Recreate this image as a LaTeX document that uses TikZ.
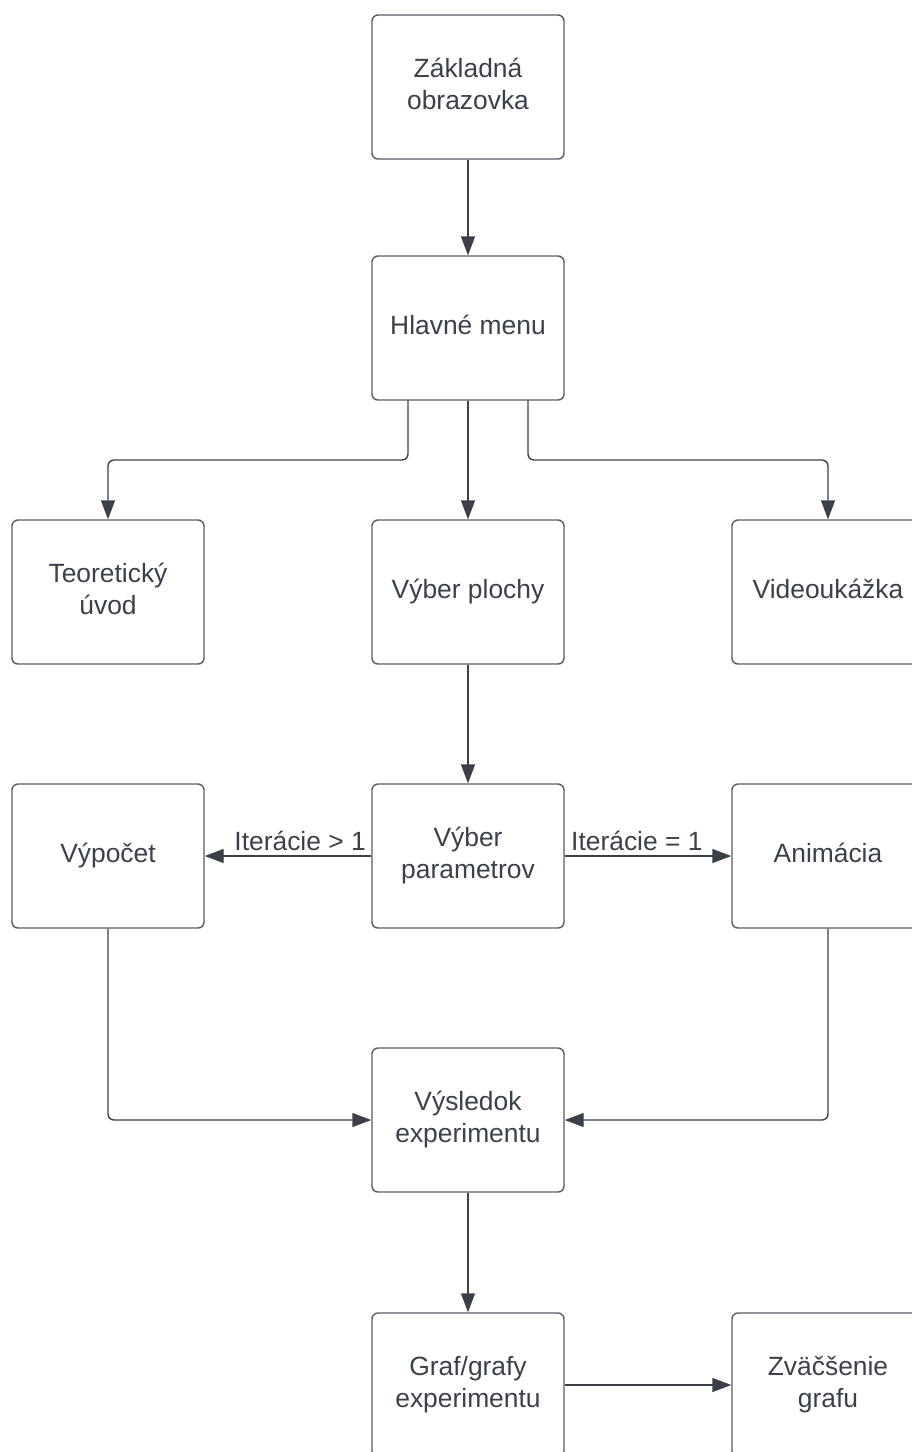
\documentclass[tikz,border=0pt]{standalone}
\usepackage{fontspec}
\setmainfont{Liberation Sans}
\usetikzlibrary{arrows.meta}
\definecolor{txt}{RGB}{58,65,74}
\definecolor{ln}{RGB}{88,92,100}
\definecolor{arr}{RGB}{58,63,72}
\newcommand{\bxt}[1]{\raisebox{3pt}{\begin{tabular}{@{}c@{}}#1\end{tabular}}}
\tikzset{
  box/.style={draw=ln, line width=1.4pt, rounded corners=6pt, minimum width=192pt,
    minimum height=144pt, inner sep=0pt, text=txt,
    font=\fontsize{26.4}{32}\selectfont},
  conn/.style={draw=arr, line width=1.4pt, rounded corners=6pt,
    -{Triangle[length=19pt,width=14pt]}},
  lbl/.style={text=txt, inner sep=0pt, font=\fontsize{26.4}{32}\selectfont}
}
\begin{document}
\begin{tikzpicture}[x=1pt,y=-1pt]
\useasboundingbox (0,0) rectangle (912,1452);
\node[box] (zak) at (468,87) {\bxt{Základná\\obrazovka}};
\node[box] (hm) at (468,328) {\bxt{Hlavné menu}};
\node[box] (teo) at (108,592) {\bxt{Teoretický\\úvod}};
\node[box] (vp) at (468,592) {\bxt{Výber plochy}};
\node[box] (vid) at (828,592) {\bxt{Videoukážka}};
\node[box] (vyp) at (108,856) {\bxt{Výpočet}};
\node[box] (par) at (468,856) {\bxt{Výber\\parametrov}};
\node[box] (ani) at (828,856) {\bxt{Animácia}};
\node[box] (vys) at (468,1120) {\bxt{Výsledok\\experimentu}};
\node[box] (gr) at (468,1385) {\bxt{Graf/grafy\\experimentu}};
\node[box] (zv) at (828,1385) {\bxt{Zväčšenie\\grafu}};

\coordinate (hl) at (408,400);
\coordinate (hr) at (528,400);

\draw[conn] (zak) -- (hm);
\draw[conn] (hl) |- (300,460) -| (teo.north);
\draw[conn] (hm) -- (vp);
\draw[conn] (hr) |- (700,460) -| (vid.north);
\draw[conn] (vp) -- (par);
\draw[conn] (par) -- (vyp);
\draw[conn] (par) -- (ani);
\draw[conn] (vyp.south) |- (vys.west);
\draw[conn] (ani.south) |- (vys.east);
\draw[conn] (vys) -- (gr);
\draw[conn] (gr) -- (zv);

\node[lbl, anchor=base east] (l1) at (366,850) {Iterácie > 1};
\node[lbl, anchor=base west] (l2) at (571,850) {Iterácie = 1};
\end{tikzpicture}
\end{document}
